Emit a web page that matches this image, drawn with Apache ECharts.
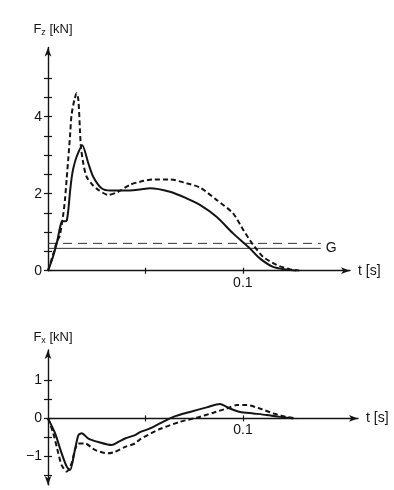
<!DOCTYPE html>
<html><head><meta charset="utf-8">
<script src="https://cdn.jsdelivr.net/npm/echarts@6/dist/echarts.min.js"></script>
<style>html,body{margin:0;padding:0;background:#fff}#c{width:394px;height:490px}</style>
</head><body><div id="c"></div>
<script>
// ---- data ----
const fzSolidT = [0, 0.0025, 0.0045, 0.007, 0.0096, 0.0113, 0.0121, 0.0130, 0.0147, 0.0176, 0.0207, 0.0232, 0.0275, 0.0320, 0.0395, 0.0472, 0.0523, 0.0626, 0.0711, 0.078, 0.0865, 0.095, 0.1036, 0.1087, 0.1155, 0.1224, 0.1275];
const fzSolidV = [0, 0.35, 0.71, 1.27, 1.30, 2.05, 2.40, 2.66, 2.96, 3.26, 2.79, 2.44, 2.14, 2.08, 2.08, 2.11, 2.14, 2.05, 1.88, 1.71, 1.40, 0.97, 0.58, 0.32, 0.10, 0.03, 0];
const fzDashT = [0, 0.0025, 0.0045, 0.0060, 0.0079, 0.0087, 0.0096, 0.0104, 0.0113, 0.0121, 0.0135, 0.0147, 0.0156, 0.0164, 0.0169, 0.0181, 0.0198, 0.0230, 0.0258, 0.0309, 0.036, 0.042, 0.0472, 0.054, 0.0626, 0.0711, 0.078, 0.0865, 0.095, 0.1002, 0.1053, 0.1104, 0.1173, 0.124, 0.129];
const fzDashV = [0, 0.40, 0.75, 0.90, 1.49, 1.84, 2.40, 2.90, 3.50, 4.05, 4.43, 4.61, 4.43, 3.65, 3.22, 2.79, 2.44, 2.22, 2.10, 1.97, 2.05, 2.23, 2.31, 2.37, 2.37, 2.27, 2.16, 1.84, 1.49, 1.06, 0.67, 0.36, 0.15, 0.04, 0];
const gSolid = 0.58, gDashed = 0.71, gEndT = 0.14;
const fxSolidT = [0, 0.0036, 0.007, 0.0096, 0.0113, 0.0138, 0.0156, 0.0173, 0.0207, 0.0258, 0.0327, 0.0361, 0.0395, 0.0446, 0.0472, 0.0520, 0.0574, 0.0643, 0.0728, 0.0814, 0.0882, 0.0933, 0.0985, 0.1053, 0.1121, 0.119, 0.1258];
const fxSolidV = [0, -0.39, -0.92, -1.27, -1.36, -0.83, -0.44, -0.39, -0.53, -0.62, -0.70, -0.62, -0.53, -0.44, -0.36, -0.27, -0.13, 0.04, 0.17, 0.29, 0.38, 0.26, 0.17, 0.13, 0.09, 0.04, 0];
const fxDashT = [0, 0.0027, 0.0053, 0.007, 0.0096, 0.0121, 0.0138, 0.0156, 0.019, 0.0241, 0.0309, 0.0344, 0.0395, 0.0446, 0.0472, 0.0574, 0.0677, 0.0763, 0.0848, 0.0916, 0.0968, 0.1019, 0.1087, 0.1156, 0.1224, 0.1275];
const fxDashV = [0, -0.39, -0.92, -1.23, -1.40, -1.18, -0.83, -0.66, -0.66, -0.83, -0.92, -0.88, -0.75, -0.66, -0.55, -0.28, -0.09, 0.02, 0.15, 0.26, 0.35, 0.35, 0.26, 0.13, 0.04, 0];
const fzTicks = [0, 0.5, 1, 1.5, 2, 2.5, 3, 3.5, 4, 4.5, 5];
const fzLabels = [0, 2, 4];
const fxTicks = [-1.5, -1, -0.5, 0, 0.5, 1];
const fxLabels = [-1, 0, 1];
const tTicks = [0.05, 0.1];
const tLabels = [0.1];

const pairs = (ts, vs) => ts.map((t, i) => [t, vs[i]]);
const INK = '#141414';
const FONT = 'Liberation Sans, Arial, sans-serif';
const lbl = {fontFamily: FONT, fontSize: 14, color: INK};
const ARROW = [5, 9];

function yAx(gi, min, max, ticks, labels, nameSub, nameGap, syms) {
  return [{
    type: 'value', gridIndex: gi, min, max, position: 'left', offset: 0,
    splitLine: {show: false},
    axisLine: {show: true, symbol: syms, symbolSize: ARROW, lineStyle: {color: INK, width: 1.4}},
    axisTick: {show: true, inside: false, length: 4, customValues: ticks, lineStyle: {color: INK, width: 1.2}},
    axisLabel: Object.assign({show: true, margin: 6, customValues: labels,
      formatter: v => (v < 0 ? '\u2212' + Math.abs(v) : String(v))}, lbl),
    name: 'F{s|' + nameSub + '} [kN]', nameLocation: 'end', nameGap: nameGap,
    nameTextStyle: {fontFamily: FONT, fontSize: 13, color: INK, padding: [0, 0, 0, 10],
      rich: {s: {fontFamily: FONT, fontSize: 9, color: INK, verticalAlign: 'bottom', padding: [6, 0, 0, 0]}}}
  }, {
    type: 'value', gridIndex: gi, min, max, position: 'left', offset: 0,
    splitLine: {show: false}, axisLine: {show: false},
    axisTick: {show: true, inside: true, length: 4, customValues: ticks, lineStyle: {color: INK, width: 1.2}},
    axisLabel: {show: false}
  }];
}
function xAx(gi, max) {
  return [{
    type: 'value', gridIndex: gi, min: 0, max, splitLine: {show: false}, position: 'bottom',
    axisLine: {show: true, onZero: false, symbol: ['none', 'arrow'], symbolSize: ARROW, lineStyle: {color: INK, width: 1.4}},
    axisTick: {show: true, inside: false, length: 3, customValues: tTicks, lineStyle: {color: INK, width: 1.2}},
    axisLabel: Object.assign({show: true, margin: 5, customValues: tLabels, formatter: v => String(v)}, lbl),
    name: 't [s]', nameLocation: 'end', nameGap: 8,
    nameTextStyle: {fontFamily: FONT, fontSize: 14, color: INK, verticalAlign: 'middle'}
  }, {
    type: 'value', gridIndex: gi, min: 0, max, splitLine: {show: false}, position: 'bottom',
    axisLine: {show: false, onZero: false},
    axisTick: {show: true, inside: true, length: 3, customValues: tTicks, lineStyle: {color: INK, width: 1.2}},
    axisLabel: {show: false}
  }];
}
function curve(xi, yi, data, dashed) {
  return {type: 'line', xAxisIndex: xi, yAxisIndex: yi, data, smooth: 0.25, symbol: 'none',
    lineStyle: {color: INK, width: 2, type: dashed ? [5, 3] : 'solid'}, z: 3};
}

const chart = echarts.init(document.getElementById('c'), null, {renderer: 'canvas'});
chart.setOption({
  backgroundColor: '#fff',
  animation: false,
  grid: [
    {left: 48, top: 47.4, width: 302, height: 223.3},
    {left: 48, top: 350, width: 310, height: 134.9},
    // upper half of the Fx panel: its bottom edge is the t axis at Fx = 0
    {left: 48, top: 350, width: 310, height: 68.4}
  ],
  xAxis: [...xAx(0, 0.155),
          {type: 'value', gridIndex: 1, min: 0, max: 0.159, show: false},
          ...xAx(2, 0.159)],
  yAxis: [...yAx(0, 0, 5.8, fzTicks, fzLabels, 'z', 10, ['none', 'arrow']),
          ...yAx(1, -1.75, 1.8, fxTicks, fxLabels, 'x', 5, ['arrow', 'arrow']),
          {type: 'value', gridIndex: 2, min: 0, max: 1.8, show: false}],
  series: [
    curve(0, 0, pairs(fzSolidT, fzSolidV), false),
    curve(0, 0, pairs(fzDashT, fzDashV), true),
    {type: 'line', xAxisIndex: 0, yAxisIndex: 0, data: [[0, gSolid], [gEndT, gSolid]], symbol: 'none',
      lineStyle: {color: '#333', width: 1}, z: 2,
      endLabel: {show: true, formatter: 'G', fontFamily: FONT, fontSize: 14, color: INK, distance: 5}},
    {type: 'line', xAxisIndex: 0, yAxisIndex: 0, data: [[0, gDashed], [gEndT, gDashed]], symbol: 'none',
      lineStyle: {color: '#333', width: 1, type: [9, 6]}, z: 2},
    curve(2, 2, pairs(fxSolidT, fxSolidV), false),
    curve(2, 2, pairs(fxDashT, fxDashV), true)
  ]
});
</script>
</body></html>
